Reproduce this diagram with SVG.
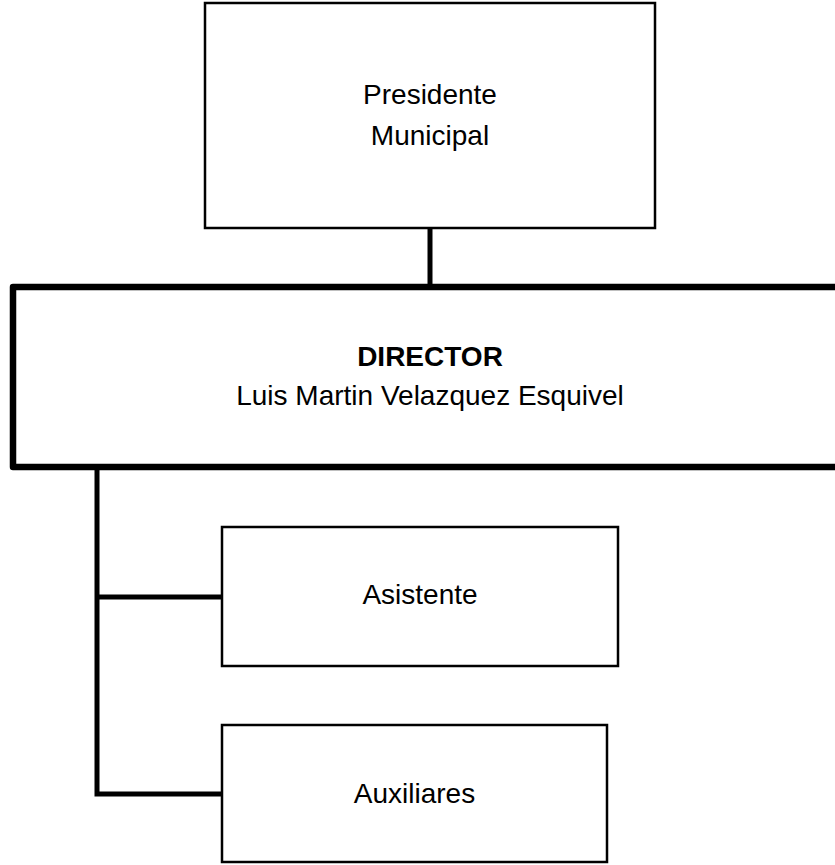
<svg xmlns="http://www.w3.org/2000/svg" width="835" height="865" viewBox="0 0 835 865">
<style>
.box{fill:#fff;stroke:#000;stroke-width:2.5}
.main{fill:#fff;stroke:#000;stroke-width:6.5;stroke-linejoin:round}
.conn{fill:none;stroke:#000;stroke-width:5}
text{font-family:"Liberation Sans",Arial,sans-serif;font-size:28px;fill:#000;text-anchor:middle}
.b{font-weight:bold}
</style>
<rect width="835" height="865" fill="#fff"/>
<g id="connectors">
<path class="conn" d="M430,228 V286"/>
<path class="conn" d="M97,467 V794 H222"/>
<path class="conn" d="M97,597 H222"/>
</g>
<g id="presidente">
<rect class="box" x="205" y="3" width="450" height="225"/>
<text x="430" y="104">Presidente</text>
<text x="430" y="145">Municipal</text>
</g>
<g id="director">
<rect class="main" x="13" y="287" width="840" height="180"/>
<text class="b" x="430" y="366">DIRECTOR</text>
<text x="430" y="405">Luis Martin Velazquez Esquivel</text>
</g>
<g id="asistente">
<rect class="box" x="222" y="527" width="396" height="139"/>
<text x="420" y="604">Asistente</text>
</g>
<g id="auxiliares">
<rect class="box" x="222" y="725" width="385" height="137"/>
<text x="414.5" y="803">Auxiliares</text>
</g>
</svg>
